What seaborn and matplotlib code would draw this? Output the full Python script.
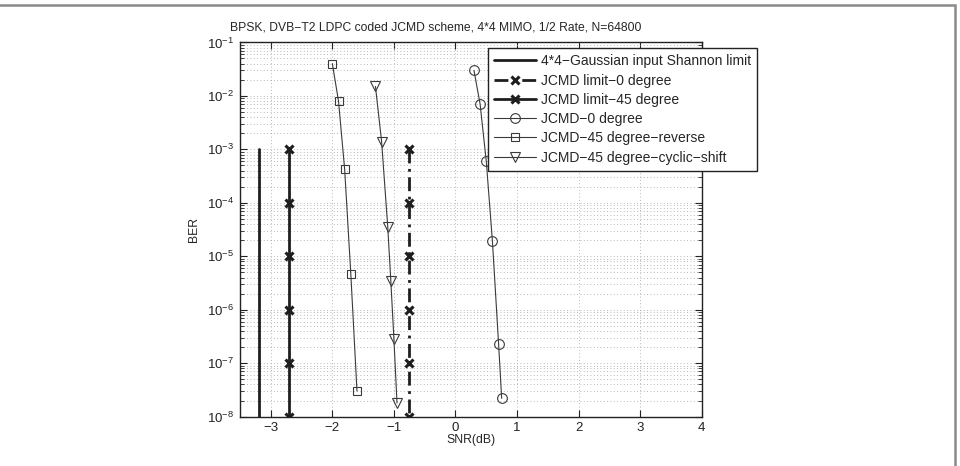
import matplotlib
matplotlib.use("Agg")
import matplotlib.pyplot as plt
from matplotlib.patches import Rectangle
from matplotlib.ticker import LogLocator, FixedLocator, NullFormatter
import pandas as pd
import seaborn as sns

# Данные
shannon_snr = [-3.19, -3.19]
shannon_ber = [1e-3, 1e-8]

limit0_snr = [-0.75] * 6
limit0_ber = [1e-3, 1e-4, 1e-5, 1e-6, 1e-7, 1e-8]

limit45_snr = [-2.70] * 6
limit45_ber = [1e-3, 1e-4, 1e-5, 1e-6, 1e-7, 1e-8]

deg0_snr = [0.3, 0.4, 0.5, 0.6, 0.7, 0.75]
deg0_ber = [3.0e-2, 7.0e-3, 6.0e-4, 1.9e-5, 2.3e-7, 2.2e-8]

rev_snr = [-2.0, -1.9, -1.8, -1.7, -1.6]
rev_ber = [4.0e-2, 8.0e-3, 4.2e-4, 4.6e-6, 3.0e-8]

cyc_snr = [-1.3, -1.2, -1.1, -1.05, -1.0, -0.95]
cyc_ber = [1.5e-2, 1.4e-3, 3.5e-5, 3.4e-6, 2.8e-7, 1.8e-8]

sns.set_style("ticks")
plt.rcParams['font.family'] = ['Liberation Sans', 'DejaVu Sans']
plt.rcParams['font.size'] = 9
plt.rcParams['mathtext.fontset'] = 'custom'
plt.rcParams['mathtext.rm'] = 'Liberation Sans'
plt.rcParams['mathtext.it'] = 'Liberation Sans'

fig = plt.figure(figsize=(9.6, 4.66), dpi=100)
ax = fig.add_axes([0.25, 0.106, 0.481, 0.803])

# рамка вокруг рисунка
fig.patches.append(Rectangle((-20, -20), 975, 481, transform=None,
                             fill=False, edgecolor='#8a8a8a', lw=1.8))

dark = '#1e1e1e'
thin = '#3a3a3a'

def draw(x, y, label, **kw):
    df = pd.DataFrame({"snr": x, "ber": y})
    sns.lineplot(data=df, x="snr", y="ber", ax=ax, label=label,
                 estimator=None, sort=False, **kw)

draw(shannon_snr, shannon_ber, "4*4\u2212Gaussian input Shannon limit",
     color=dark, lw=2.0)
draw(limit0_snr, limit0_ber, "JCMD limit\u22120 degree",
     color=dark, lw=2.0, linestyle=(0, (5, 2, 1, 2)), marker='x',
     markersize=6, markeredgewidth=2.2, markeredgecolor=dark)
draw(limit45_snr, limit45_ber, "JCMD limit\u221245 degree",
     color=dark, lw=2.0, marker='x', markersize=6, markeredgewidth=2.2,
     markeredgecolor=dark)
draw(deg0_snr, deg0_ber, "JCMD\u22120 degree", color=thin, lw=0.8,
     marker='o', markersize=7, markerfacecolor='none', markeredgecolor=thin,
     markeredgewidth=0.8)
draw(rev_snr, rev_ber, "JCMD\u221245 degree\u2212reverse", color=thin, lw=0.8,
     marker='s', markersize=5.5, markerfacecolor='none', markeredgecolor=thin,
     markeredgewidth=0.8)
draw(cyc_snr, cyc_ber, "JCMD\u221245 degree\u2212cyclic\u2212shift", color=thin,
     lw=0.8, marker='v', markersize=7.5, markerfacecolor='none',
     markeredgecolor=thin, markeredgewidth=0.8)

ax.set_yscale('log')
ax.set_xlim(-3.5, 4)
ax.set_ylim(1e-8, 1e-1)
ax.xaxis.set_major_locator(FixedLocator([-3, -2, -1, 0, 1, 2, 3, 4]))
ax.set_xticklabels(["\u22123", "\u22122", "\u22121", "0", "1", "2", "3", "4"])
ax.yaxis.set_major_locator(LogLocator(base=10, numticks=20))
ax.yaxis.set_minor_locator(LogLocator(base=10, subs=range(2, 10), numticks=20))
ax.yaxis.set_minor_formatter(NullFormatter())

ax.grid(True, which='major', color='#a0a0a0', linestyle=(0, (1, 3)), lw=0.6)
ax.grid(True, which='minor', axis='y', color='#a0a0a0', linestyle=(0, (1, 3)), lw=0.6)
ax.tick_params(which='both', direction='in', top=True, right=True,
               colors='#222222', labelsize=9.5, pad=4)
ax.tick_params(which='major', length=5, width=0.8)
ax.tick_params(which='minor', length=3, width=0.6)
for s in ax.spines.values():
    s.set_color('#222222')
    s.set_linewidth(1.0)

ax.set_xlabel("SNR(dB)", fontsize=8.8, labelpad=0)
ax.set_ylabel("BER", fontsize=8.8, labelpad=5)
fig.text(230 / 960, 1 - 27 / 466, "BPSK, DVB\u2212T2 LDPC coded JCMD scheme, 4*4 MIMO, 1/2 Rate, N=64800",
         ha='left', va='center', fontsize=8.7)

leg = ax.legend(loc='upper left', bbox_to_anchor=(488 / 960, 1 - 48 / 466),
                bbox_transform=fig.transFigure, fancybox=False, framealpha=1,
                edgecolor='#222222', fontsize=10, handlelength=3.0,
                labelspacing=0.38, borderpad=0.45, handletextpad=0.35,
                borderaxespad=0)
leg.get_frame().set_linewidth(1.0)

fig.savefig("out.png", dpi=100)
